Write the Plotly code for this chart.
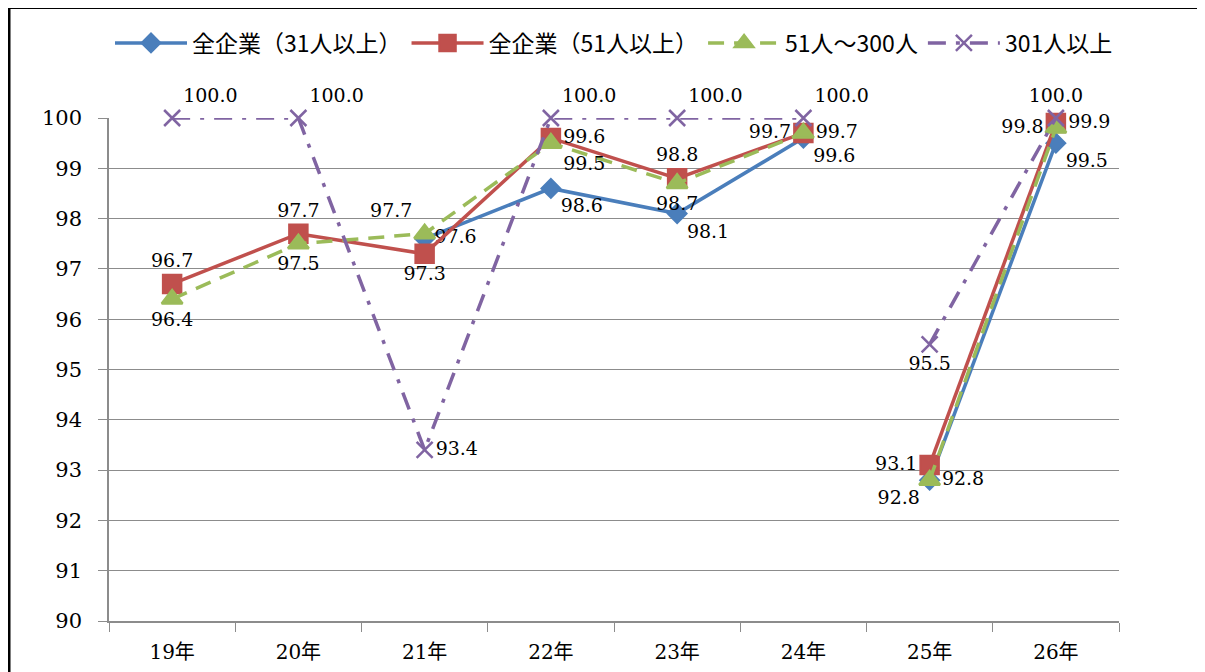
import plotly.graph_objects as go

years = ["19年", "20年", "21年", "22年", "23年", "24年", "25年", "26年"]
all31 = [None, None, 97.6, 98.6, 98.1, 99.6, 92.8, 99.5]
all51 = [96.7, 97.7, 97.3, 99.6, 98.8, 99.7, 93.1, 99.9]
mid51_300 = [96.4, 97.5, 97.7, 99.5, 98.7, 99.7, 92.8, 99.8]
over301 = [100.0, 100.0, 93.4, 100.0, 100.0, 100.0, 95.5, 100.0]

names = ["全企業（31人以上）", "全企業（51人以上）", "51人～300人", "301人以上"]

# segments (data is broken between 24年 and 25年)
segments = [(0, 6), (6, 8)]

series = [
    dict(name=names[0], y=all31, color="#4A7EBB", dash="solid", symbol="diamond", msize=14, width=3.5,
         pos=["middle right"] * 2 + ["middle right", "bottom right", "bottom right", "bottom right", "bottom left", "bottom right"]),
    dict(name=names[1], y=all51, color="#C0504D", dash="solid", symbol="square", msize=18, width=3.5,
         pos=["top center", "top center", "bottom center", "middle right", "top center", "middle right", "middle left", "middle right"]),
    dict(name=names[2], y=mid51_300, color="#9BBB59", dash="16px,10px", symbol="triangle-up", msize=18, width=3.5,
         pos=["bottom center", "bottom center", "top left", "bottom right", "bottom center", "middle left", "middle right", "middle left"]),
    dict(name=names[3], y=over301, color="#8064A2", dash="18px,10px,4px,10px", symbol="x-thin", msize=16, width=3.5,
         pos=["top right", "top right", "middle right", "top right", "top right", "top right", "bottom center", "top center"]),
]

SERIF = "DejaVu Serif"
label_font = dict(family=SERIF, size=19, color="black")

fig = go.Figure()
for s in series:
    for k, (a, b) in enumerate(segments):
        fig.add_trace(go.Scatter(
            x=years[a:b], y=s["y"][a:b],
            mode="lines+markers+text",
            name=s["name"], legendgroup=s["name"], showlegend=(k == 0),
            line=dict(color=s["color"], width=s["width"], dash=s["dash"]),
            marker=dict(symbol=s["symbol"], size=s["msize"], color=s["color"],
                        line=dict(color=s["color"], width=2.5)),
            text=[None if v is None else f"{v:.1f}" for v in s["y"][a:b]],
            textposition=s["pos"][a:b],
            textfont=label_font,
            cliponaxis=False,
            connectgaps=False,
        ))

fig.update_layout(
    width=1205, height=672,
    margin=dict(l=101, r=94, t=110, b=59, autoexpand=False),
    paper_bgcolor="white", plot_bgcolor="white",
    font=dict(family=SERIF, size=20, color="black"),
    legend=dict(orientation="h", x=0.5, xanchor="center", y=(613 - 35) / 503, yanchor="middle",
                font=dict(family="Noto Sans CJK JP", size=23, color="black"),
                bgcolor="rgba(0,0,0,0)",
                itemwidth=72, traceorder="normal"),
    showlegend=True,
)
fig.update_xaxes(
    type="category", categoryorder="array", categoryarray=years,
    tickson="boundaries", ticks="outside", ticklen=9, tickcolor="#8C8C8C",
    showline=True, linecolor="#8C8C8C", linewidth=1.5, showgrid=False,
    tickfont=dict(family="DejaVu Serif, Noto Sans CJK JP", size=20), range=[-0.5, 7.5],
    ticklabelstandoff=12,
)
fig.update_yaxes(
    range=[90, 100], dtick=1, ticks="outside", ticklen=9, tickcolor="#8C8C8C",
    showline=True, linecolor="#8C8C8C", linewidth=1.5,
    showgrid=True, gridcolor="#8C8C8C", gridwidth=1, zeroline=False,
    tickfont=dict(family=SERIF, size=21), ticklabelstandoff=12,
)
fig.add_shape(type="rect", xref="paper", yref="paper",
              x0=-100 / 1010, x1=1.2, y0=-0.3, y1=(613 + 0.5) / 503,
              line=dict(color="black", width=3), layer="above")

fig.write_html("out.html")
